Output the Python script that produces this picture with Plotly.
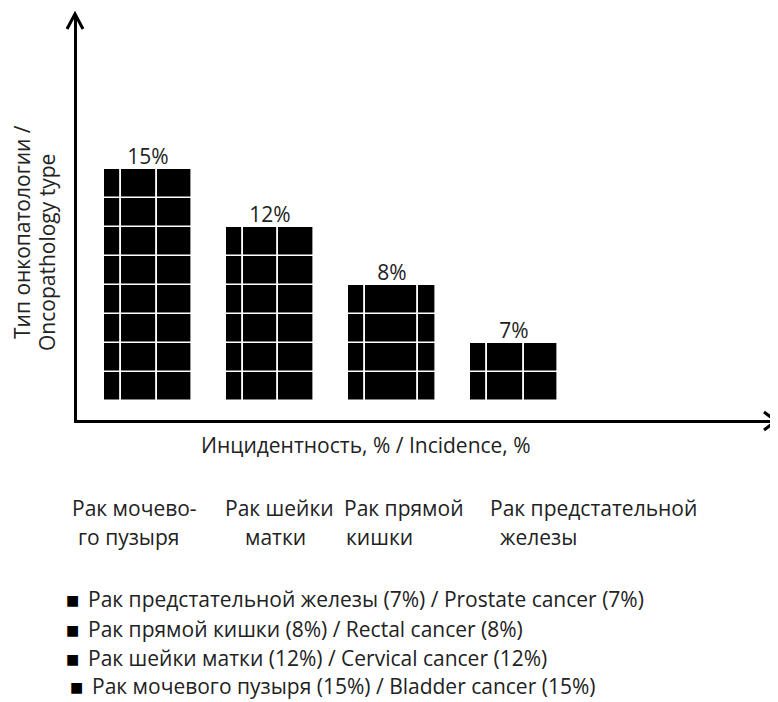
import plotly.graph_objects as go

# ---------------- data ----------------
categories = ["Рак мочевого пузыря", "Рак шейки матки", "Рак прямой кишки", "Рак предстательной железы"]
incidence = [15, 12, 8, 7]                # % shown above bars
block_rows = [8, 6, 4, 2]                 # number of stacked blocks drawn per bar in the picture
value_labels = ["15%", "12%", "8%", "7%"]
tick_line1 = ["Рак мочево-", "Рак шейки", "Рак прямой", "Рак предстательной"]
tick_line2 = ["го пузыря", "матки", "кишки", "железы"]
legend_labels = [
    "Рак предстательной железы (7%) / Prostate cancer (7%)",
    "Рак прямой кишки (8%) / Rectal cancer (8%)",
    "Рак шейки матки (12%) / Cervical cancer (12%)",
    "Рак мочевого пузыря (15%) / Bladder cancer (15%)",
]
x_title = "Инцидентность, % / Incidence, %"
y_title = ["Тип онкопатологии /", "Oncopathology type"]

# ---------------- style / layout ----------------
OFF = 8                      # page body margin
W, H = 778 - OFF, 702 - OFF
LX, RX, TOPY, BOTY = 77, 775, 15, 420     # plot area in screen pixels
L = LX - OFF
T = TOPY - OFF
PW = RX - LX
PH = BOTY - TOPY
R = W - L - PW
B = H - T - PH
BAR_W = 0.72
COL_SPLITS = [[17, 36, 35], [17, 35, 36], [17, 53, 18], [17, 36, 34]]  # grid column proportions
FONT = "Open Sans"
TXT = "#222222"
FS = 21
FS_LEG = 21


def px(xs):
    return (xs - LX) / PW


def py(ys):
    return (BOTY - ys) / PH


# build the grid cells of each bar
cx, cw, cb = [], [], []
for i, rows in enumerate(block_rows):
    parts = COL_SPLITS[i]
    tot = sum(parts)
    left = i - BAR_W / 2
    for r in range(rows):
        acc = 0
        for p in parts:
            w = BAR_W * p / tot
            cx.append(left + BAR_W * acc / tot + w / 2)
            cw.append(w)
            cb.append(r)
            acc += p

fig = go.Figure()
fig.add_trace(go.Bar(
    x=cx, y=[1] * len(cx), base=cb, width=cw,
    marker=dict(color="black", line=dict(color="white", width=1.6)),
    hoverinfo="skip", showlegend=False,
))
fig.add_trace(go.Scatter(
    x=list(range(len(categories))), y=block_rows, mode="text",
    text=value_labels, textposition="top center",
    textfont=dict(family=FONT, size=FS, color=TXT),
    hoverinfo="skip", showlegend=False,
))

row_px = 29.0
ymin = -(BOTY - 401) / row_px
ymax = ymin + PH / row_px
xmin = (LX - 148) / 122
xmax = xmin + PW / 122

ann = []
# x-axis title
ann.append(dict(x=px(366), y=py(445), xref="paper", yref="paper", text=x_title,
                showarrow=False, xanchor="center", yanchor="middle",
                font=dict(family=FONT, size=FS, color=TXT)))
# y-axis title (two rotated lines)
for t, xc, yc in zip(y_title, [22, 47], [232, 253]):
    ann.append(dict(x=px(xc), y=py(yc), xref="paper", yref="paper", text=t,
                    showarrow=False, textangle=-90, xanchor="center", yanchor="middle",
                    font=dict(family=FONT, size=FS, color=TXT)))
# category labels
l1_left = [70, 223, 342, 488]
l2_left = [76, 243, 344, 498]
for i in range(len(categories)):
    ann.append(dict(x=px(l1_left[i]), y=py(508), xref="paper", yref="paper", text=tick_line1[i],
                    showarrow=False, xanchor="left", yanchor="middle",
                    font=dict(family=FONT, size=FS, color=TXT)))
    ann.append(dict(x=px(l2_left[i]), y=py(537), xref="paper", yref="paper", text=tick_line2[i],
                    showarrow=False, xanchor="left", yanchor="middle",
                    font=dict(family=FONT, size=FS, color=TXT)))
# legend
leg_y = [599, 629, 658, 686]
for j, lab in enumerate(legend_labels):
    off = 4 if j == 3 else 0
    ann.append(dict(x=px(64 + off), y=py(leg_y[j] + 1), xref="paper", yref="paper", text="■",
                    showarrow=False, xanchor="left", yanchor="middle",
                    font=dict(family="DejaVu Sans", size=14, color="black")))
    ann.append(dict(x=px(86 + off), y=py(leg_y[j]), xref="paper", yref="paper", text=lab,
                    showarrow=False, xanchor="left", yanchor="middle",
                    font=dict(family=FONT, size=FS_LEG, color=TXT)))

shapes = [
    dict(type="path", xref="paper", yref="paper",
         path=f"M {px(764)} {py(412)} L {px(776)} {py(421)} L {px(764)} {py(430)}",
         line=dict(color="black", width=3)),
    dict(type="path", xref="paper", yref="paper",
         path=f"M {px(67)} {py(29)} L {px(75)} {py(14)} L {px(83)} {py(29)}",
         line=dict(color="black", width=3)),
]

fig.update_layout(
    width=W, height=H,
    margin=dict(l=L, r=R, t=T, b=B),
    paper_bgcolor="white", plot_bgcolor="white",
    barmode="overlay", bargap=0,
    annotations=ann, shapes=shapes,
    xaxis=dict(range=[xmin, xmax], showticklabels=False, ticks="", showgrid=False,
               zeroline=False, showline=True, linecolor="black", linewidth=2.5, fixedrange=True),
    yaxis=dict(range=[ymin, ymax], showticklabels=False, ticks="", showgrid=False,
               zeroline=False, showline=True, linecolor="black", linewidth=2.5, fixedrange=True),
)

fig.write_html("out.html")
